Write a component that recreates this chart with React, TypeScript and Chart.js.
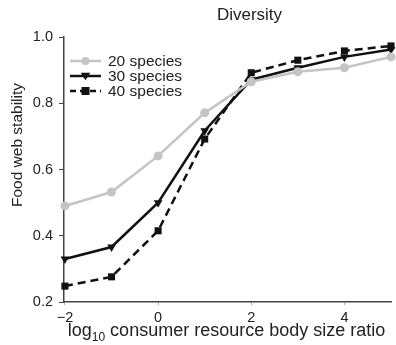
import React, { useEffect, useRef } from "react";
import { Chart, registerables } from "chart.js";

Chart.register(...registerables);

const xValues = [-2, -1, 0, 1, 2, 3, 4, 5];
const species20 = [0.49, 0.532, 0.641, 0.771, 0.865, 0.895, 0.907, 0.94];
const species30 = [0.33, 0.366, 0.5, 0.717, 0.871, 0.907, 0.94, 0.962];
const species40 = [0.248, 0.276, 0.415, 0.692, 0.892, 0.93, 0.958, 0.973];
const seriesLabels = ["20 species", "30 species", "40 species"];
const xTicks = [-2, 0, 2, 4];
const yTicks = [0.2, 0.4, 0.6, 0.8, 1.0];

const FONT = "Liberation Sans, Arial, sans-serif";
const GRAY = "#c4c4c4";
const BLACK = "#111";

function drawPoint(ctx: CanvasRenderingContext2D, style: string, x: number, y: number, r: number) {
  ctx.beginPath();
  if (style === "circle") {
    ctx.arc(x, y, r, 0, Math.PI * 2);
  } else if (style === "rect") {
    ctx.rect(x - r, y - r, 2 * r, 2 * r);
  } else {
    const h = r * 1.2;
    ctx.moveTo(x - h, y - h * 0.7);
    ctx.lineTo(x + h, y - h * 0.7);
    ctx.lineTo(x, y + h * 0.9);
    ctx.closePath();
  }
  ctx.fill();
}

export default function App() {
  const ref = useRef<HTMLCanvasElement | null>(null);
  useEffect(() => {
    document.body.style.margin = "0";
    const canvas = ref.current!;
    const toPts = (arr: number[]) => arr.map((y, i) => ({ x: xValues[i], y }));

    const overlay = {
      id: "overlay",
      afterDraw(chart: any) {
        const ctx = chart.ctx as CanvasRenderingContext2D;
        ctx.save();
        // title
        ctx.fillStyle = "#222";
        ctx.font = `17px ${FONT}`;
        ctx.textAlign = "center";
        ctx.textBaseline = "middle";
        ctx.fillText("Diversity", 249.5, 15);
        // legend
        const items = [
          { color: GRAY, dash: [] as number[], style: "circle" },
          { color: BLACK, dash: [] as number[], style: "triangle" },
          { color: BLACK, dash: [6, 4], style: "rect" },
        ];
        items.forEach((it, i) => {
          const y = 61 + i * 15;
          ctx.strokeStyle = it.color;
          ctx.lineWidth = 2.5;
          ctx.setLineDash(it.dash);
          ctx.beginPath();
          ctx.moveTo(70, y);
          ctx.lineTo(101, y);
          ctx.stroke();
          ctx.setLineDash([]);
          ctx.fillStyle = it.color;
          drawPoint(ctx, it.style, 85.5, y, 4);
          ctx.fillStyle = "#222";
          ctx.font = `15.5px ${FONT}`;
          ctx.textAlign = "left";
          ctx.textBaseline = "middle";
          ctx.fillText(seriesLabels[i], 108, y + 1);
        });
        // x title with subscript
        ctx.fillStyle = "#222";
        ctx.textBaseline = "alphabetic";
        ctx.textAlign = "left";
        const big = `18px ${FONT}`;
        const small = `12px ${FONT}`;
        ctx.font = big;
        const w1 = ctx.measureText("log").width;
        const w3 = ctx.measureText(" consumer resource body size ratio").width;
        ctx.font = small;
        const w2 = ctx.measureText("10").width;
        const total = w1 + w2 + w3;
        let x = 226.5 - total / 2;
        const base = 336;
        ctx.font = big;
        ctx.fillText("log", x, base);
        x += w1;
        ctx.font = small;
        ctx.fillText("10", x, base + 5);
        x += w2;
        ctx.font = big;
        ctx.fillText(" consumer resource body size ratio", x, base);
        // y title
        ctx.translate(18, 145);
        ctx.rotate(-Math.PI / 2);
        ctx.textAlign = "center";
        ctx.textBaseline = "middle";
        ctx.font = `15.5px ${FONT}`;
        ctx.fillText("Food web stability", 0, 0);
        ctx.restore();
      },
    };

    const chart = new Chart(canvas, {
      type: "line",
      data: {
        datasets: [
          {
            label: seriesLabels[0],
            data: toPts(species20),
            borderColor: GRAY,
            backgroundColor: GRAY,
            borderWidth: 2.5,
            pointStyle: "circle",
            pointRadius: 4.5,
            pointBorderWidth: 0,
            clip: false as any,
          },
          {
            label: seriesLabels[1],
            data: toPts(species30),
            borderColor: BLACK,
            backgroundColor: BLACK,
            borderWidth: 2.5,
            pointStyle: "triangle",
            pointRotation: 180,
            pointRadius: 5,
            pointBorderWidth: 0,
            clip: false as any,
          },
          {
            label: seriesLabels[2],
            data: toPts(species40),
            borderColor: BLACK,
            backgroundColor: BLACK,
            borderWidth: 2.5,
            borderDash: [8, 5],
            pointStyle: "rect",
            pointRadius: 5,
            pointBorderWidth: 0,
            clip: false as any,
          },
        ],
      },
      options: {
        responsive: false,
        animation: false,
        layout: { padding: { top: 37, right: 2, left: 0, bottom: 0 } },
        plugins: {
          legend: { display: false },
          title: { display: false },
          tooltip: { enabled: false },
        },
        scales: {
          x: {
            type: "linear",
            min: -2.02,
            max: 5.0,
            afterBuildTicks: (s: any) => {
              s.ticks = xTicks.map((v) => ({ value: v }));
            },
            afterFit: (s: any) => {
              s.height = 43;
            },
            grid: { display: true, drawOnChartArea: false, tickLength: 3, color: "#aaa" },
            border: { display: true, color: "#444", width: 1.5 },
            ticks: {
              color: "#222",
              font: { family: FONT, size: 14.5 },
              padding: 4,
              maxRotation: 0,
              callback: (v: any) => (Number(v) < 0 ? "\u2212" + Math.abs(Number(v)) : String(v)),
            },
          },
          y: {
            type: "linear",
            min: 0.2,
            max: 1.0,
            afterBuildTicks: (s: any) => {
              s.ticks = yTicks.map((v) => ({ value: v }));
            },
            afterFit: (s: any) => {
              s.width = 64;
            },
            grid: { display: true, drawOnChartArea: false, tickLength: 5, color: "#444" },
            border: { display: true, color: "#444", width: 1.5 },
            ticks: {
              color: "#222",
              font: { family: FONT, size: 14.5 },
              padding: 6,
              callback: (v: any) => Number(v).toFixed(1),
            },
          },
        },
      },
      plugins: [overlay],
    });
    return () => chart.destroy();
  }, []);
  return <canvas ref={ref} width={396} height={345} style={{ display: "block" }} />;
}
